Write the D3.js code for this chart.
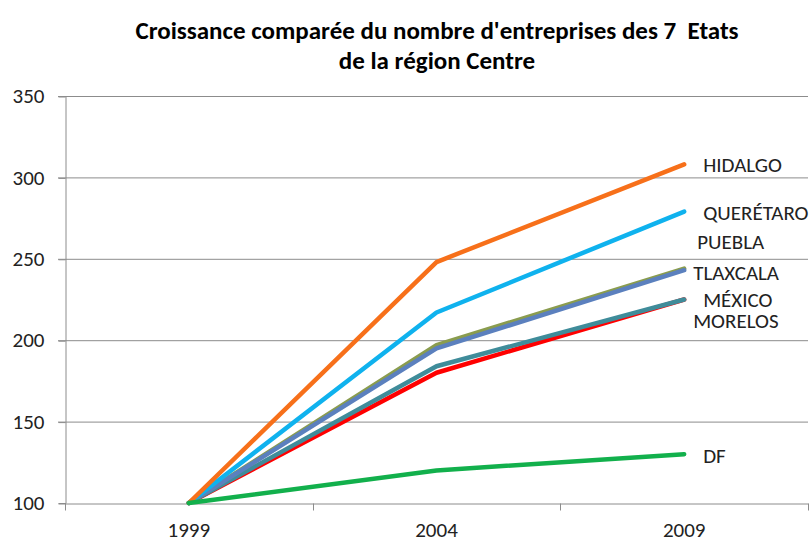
<!DOCTYPE html>
<html>
<head>
<meta charset="utf-8">
<script src="https://cdn.jsdelivr.net/npm/d3@7"></script>
<style>
  body { margin: 0; background: #fff; }
  svg { display: block; }
</style>
</head>
<body>
<script>
// data
const years = ["1999", "2004", "2009"];
const states = ["MORELOS", "MÉXICO", "PUEBLA", "TLAXCALA", "QUERÉTARO", "HIDALGO", "DF"];
const values = [
  [100, 180, 225],
  [100, 184, 225],
  [100, 197, 244],
  [100, 195, 243],
  [100, 217, 279],
  [100, 248, 308],
  [100, 120, 130]
];
const yTicks = [100, 150, 200, 250, 300, 350];

// styling
const colors = ["#ff0000", "#3f8c9a", "#8a9c4e", "#5b80be", "#0fb2ee", "#f7701a", "#12b04c"];
// label nudges (px) relative to the last point
const labelDx = [9, 19, 13, 9, 19, 19, 19];
const labelDy = [21, 0, -27, 2, 1, 0, 1];

const W = 811, H = 541;
const margin = { top: 96, right: 3, bottom: 38, left: 65 };
const font = "Carlito, 'Liberation Sans Narrow', 'Open Sans', sans-serif";

const svg = d3.select("body").append("svg")
  .attr("width", W)
  .attr("height", H)
  .style("font-family", font);

const x = d3.scaleBand()
  .domain(years)
  .range([margin.left, W - margin.right]);
const y = d3.scaleLinear()
  .domain([100, 350])
  .range([H - margin.bottom, margin.top]);

// title
const title = svg.append("text")
  .attr("text-anchor", "middle")
  .style("font-size", "25px").style("font-weight", "bold")
  .style("white-space", "pre")
  .attr("fill", "#000");
title.append("tspan").attr("x", 437).attr("y", 39)
  .text("Croissance comparée du nombre d'entreprises des 7  Etats");
title.append("tspan").attr("x", 437).attr("y", 69)
  .text("de la région Centre");

// gridlines
svg.append("g")
  .selectAll("line")
  .data(yTicks.slice(1))
  .join("line")
  .attr("x1", margin.left - 7)
  .attr("x2", W - margin.right)
  .attr("y1", d => y(d) + 0.5)
  .attr("y2", d => y(d) + 0.5)
  .attr("stroke", "#8c8c8c");

// y axis
const yAxis = svg.append("g")
  .attr("transform", `translate(${margin.left + 0.5},0)`)
  .call(d3.axisLeft(y).tickValues(yTicks).tickSize(7).tickPadding(14));
yAxis.select(".domain").attr("stroke", "#8c8c8c");
yAxis.selectAll(".tick line").attr("stroke", "#8c8c8c").attr("transform", "translate(0,0.5)");
yAxis.selectAll(".tick text")
  .style("font-family", font).style("font-size", "21px").attr("fill", "#222");

// x axis
const xAxis = svg.append("g")
  .attr("transform", `translate(0,${y(100) + 0.5})`)
  .call(d3.axisBottom(x).tickSize(0).tickPadding(19));
xAxis.select(".domain").attr("stroke", "#8c8c8c");
xAxis.selectAll(".tick text")
  .style("font-family", font).style("font-size", "21px").attr("fill", "#222");
xAxis.append("g")
  .selectAll("line")
  .data(years.map(d => x(d)).concat([x(years[years.length - 1]) + x.bandwidth()]))
  .join("line")
  .attr("x1", d => Math.round(d) + 0.5)
  .attr("x2", d => Math.round(d) + 0.5)
  .attr("y1", 0).attr("y2", 7)
  .attr("stroke", "#8c8c8c");

// lines
const line = d3.line()
  .x((d, i) => x(years[i]) + x.bandwidth() / 2)
  .y(d => y(d));

svg.append("g")
  .selectAll("path")
  .data(values)
  .join("path")
  .attr("d", line)
  .attr("fill", "none")
  .attr("stroke", (d, i) => colors[i])
  .attr("stroke-width", 4.5)
  .attr("stroke-linecap", "round")
  .attr("stroke-linejoin", "round");

// labels
svg.append("g")
  .selectAll("text")
  .data(states)
  .join("text")
  .attr("x", (d, i) => x(years[2]) + x.bandwidth() / 2 + labelDx[i])
  .attr("y", (d, i) => y(values[i][2]) + labelDy[i])
  .attr("dy", "0.35em")
  .style("font-size", "21px")
  .attr("fill", "#222")
  .text(d => d);
</script>
</body>
</html>
